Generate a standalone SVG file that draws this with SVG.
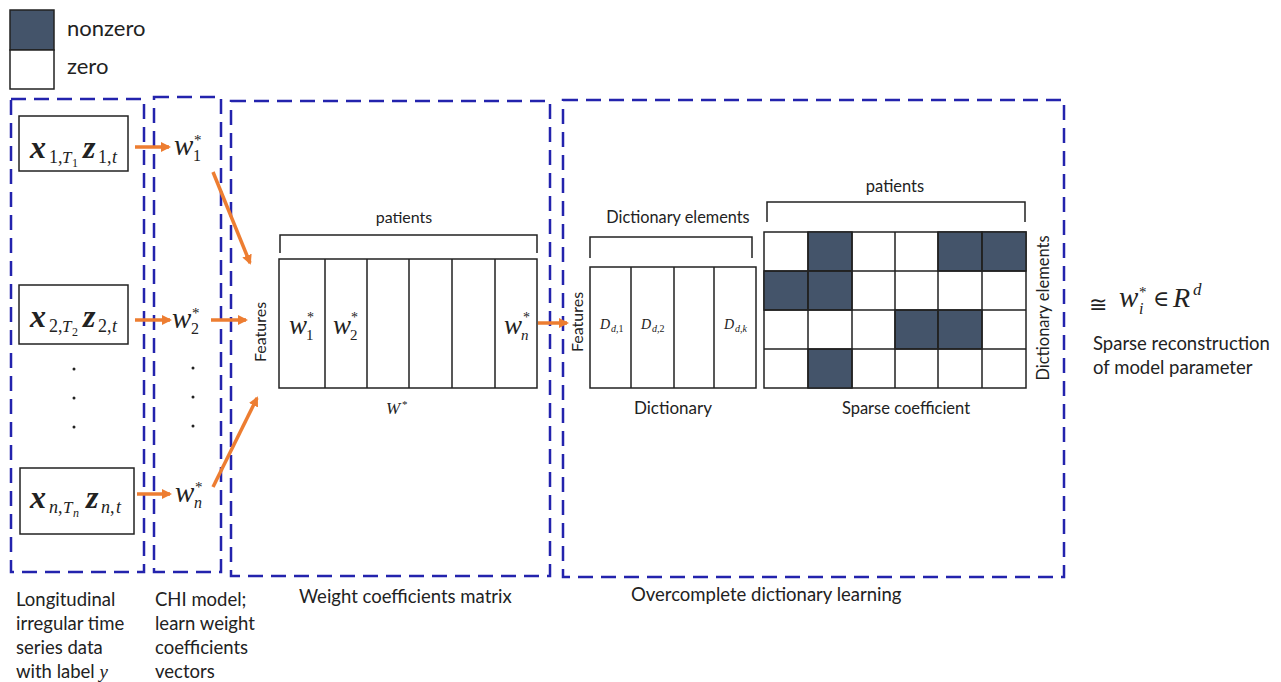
<svg xmlns="http://www.w3.org/2000/svg" width="1281" height="682" viewBox="0 0 1281 682">
<style>
.t{font-family:Lato,"Open Sans","Liberation Sans",sans-serif;fill:#222}
.m{font-family:"Liberation Serif","DejaVu Serif",serif;font-style:italic;fill:#222}
.mn{font-family:"Liberation Serif","DejaVu Serif",serif;font-style:normal;fill:#222}
.mb{font-family:"Liberation Serif","DejaVu Serif",serif;font-style:italic;font-weight:bold;fill:#222}
.dash{fill:none;stroke:#2323ad;stroke-width:2.5;stroke-dasharray:15 8}
.blk{fill:#fff;stroke:#222;stroke-width:1.5}
.ln{fill:none;stroke:#222;stroke-width:1.5}
.dk{fill:#44546a;stroke:#222;stroke-width:1.5}
.arr{stroke:#ed7d31;stroke-width:3.5;fill:none;marker-end:url(#ah)}
</style>
<defs>
<marker id="ah" markerWidth="10" markerHeight="10" refX="8" refY="5" orient="auto" markerUnits="userSpaceOnUse" viewBox="0 0 10 10">
<path d="M0,0 L10,5 L0,10 z" fill="#ed7d31"/>
</marker>
</defs>
<rect width="1281" height="682" fill="#fff"/>

<g id="legend">
<rect x="10" y="10" width="44" height="40" class="dk"/>
<rect x="10" y="50" width="44" height="39" class="blk"/>
<text x="67" y="36" class="t" font-size="22">nonzero</text>
<text x="67" y="74" class="t" font-size="22">zero</text>
</g>

<g id="frames">
<rect x="11" y="99" width="133" height="473" class="dash"/>
<rect x="154" y="97" width="67" height="475" class="dash"/>
<rect x="231" y="101" width="319" height="475" class="dash"/>
<rect x="563" y="100" width="501" height="477" class="dash"/>
</g>

<g id="input1">
<rect x="19" y="116" width="109" height="55" class="blk"/>
<text class="mb" font-size="32" x="30" y="158">x</text>
<text class="mn" font-size="18" x="49" y="163">1,</text>
<text class="m" font-size="17" x="62" y="163">T</text>
<text class="mn" font-size="12" x="72" y="167">1</text>
<text class="mb" font-size="32" x="83" y="158">z</text>
<text class="mn" font-size="18" x="98" y="163">1,</text>
<text class="m" font-size="18" x="112" y="163">t</text>
</g>

<g id="input2">
<rect x="19" y="285" width="109" height="59" class="blk"/>
<text class="mb" font-size="32" x="30" y="327">x</text>
<text class="mn" font-size="18" x="49" y="332">2,</text>
<text class="m" font-size="17" x="62" y="332">T</text>
<text class="mn" font-size="12" x="72" y="336">2</text>
<text class="mb" font-size="32" x="83" y="327">z</text>
<text class="mn" font-size="18" x="98" y="332">2,</text>
<text class="m" font-size="18" x="112" y="332">t</text>
</g>

<g id="inputn">
<rect x="20" y="468" width="114" height="66" class="blk"/>
<text class="mb" font-size="32" x="30" y="508">x</text>
<text class="m" font-size="18" x="49" y="513">n</text>
<text class="mn" font-size="18" x="58" y="513">,</text>
<text class="m" font-size="17" x="63" y="513">T</text>
<text class="m" font-size="12" x="73" y="517">n</text>
<text class="mb" font-size="32" x="86" y="508">z</text>
<text class="m" font-size="18" x="101" y="513">n</text>
<text class="mn" font-size="18" x="110" y="513">,</text>
<text class="m" font-size="18" x="116" y="513">t</text>
</g>

<g id="dots">
<circle cx="74" cy="369" r="1.5" fill="#222"/>
<circle cx="74" cy="398" r="1.5" fill="#222"/>
<circle cx="74" cy="427" r="1.5" fill="#222"/>
<circle cx="193" cy="368" r="1.5" fill="#222"/>
<circle cx="193" cy="397" r="1.5" fill="#222"/>
<circle cx="193" cy="426" r="1.5" fill="#222"/>
</g>

<g id="w1">
<text class="m" font-size="29" x="174" y="155">w</text>
<text class="mn" font-size="16" x="193" y="161">1</text>
<text class="mn" font-size="15" x="194" y="145">*</text>
</g>
<g id="w2">
<text class="m" font-size="29" x="172" y="328">w</text>
<text class="mn" font-size="16" x="191" y="334">2</text>
<text class="mn" font-size="15" x="192" y="318">*</text>
</g>
<g id="wn">
<text class="m" font-size="29" x="175" y="502">w</text>
<text class="m" font-size="16" x="194" y="508">n</text>
<text class="mn" font-size="15" x="195" y="492">*</text>
</g>

<g id="connectors">
<line x1="135" y1="147" x2="169" y2="147" class="arr"/>
<line x1="135" y1="320" x2="170" y2="320" class="arr"/>
<line x1="137" y1="494" x2="170" y2="494" class="arr"/>
<line x1="213" y1="172" x2="250" y2="263" class="arr"/>
<line x1="211" y1="320" x2="246" y2="320" class="arr"/>
<line x1="213" y1="487" x2="257" y2="398" class="arr"/>
<line x1="538" y1="323" x2="567" y2="323" class="arr"/>
</g>

<g id="wmatrix">
<text class="t" font-size="16" x="404" y="223" text-anchor="middle">patients</text>
<path d="M280,253 V235 H537 V253" class="ln"/>
<text class="t" font-size="16" transform="translate(266,332) rotate(-90)" text-anchor="middle">Features</text>
<rect x="279" y="259" width="258" height="129" class="blk"/>
<path d="M325,259V388M367,259V388M409,259V388M452,259V388M495,259V388" class="ln"/>
<text class="m" font-size="27" x="289" y="334">w</text>
<text class="mn" font-size="15" x="306" y="340">1</text>
<text class="mn" font-size="14" x="307" y="322">*</text>
<text class="m" font-size="27" x="333" y="334">w</text>
<text class="mn" font-size="15" x="350" y="340">2</text>
<text class="mn" font-size="14" x="351" y="322">*</text>
<text class="m" font-size="27" x="504" y="334">w</text>
<text class="m" font-size="15" x="521" y="340">n</text>
<text class="mn" font-size="14" x="523" y="322">*</text>
<text class="m" font-size="17" x="386" y="414">W</text>
<text class="mn" font-size="11" x="402" y="408">*</text>
</g>

<g id="labels">
<text class="t" font-size="18.5" x="16" y="606">Longitudinal</text>
<text class="t" font-size="18.5" x="16" y="630">irregular time</text>
<text class="t" font-size="18.5" x="16" y="654">series data</text>
<text class="t" font-size="18.5" x="16" y="678">with label <tspan class="m" font-size="19">y</tspan></text>
<text class="t" font-size="18.5" x="155" y="606">CHI model;</text>
<text class="t" font-size="18.5" x="155" y="630">learn weight</text>
<text class="t" font-size="18.5" x="155" y="654">coefficients</text>
<text class="t" font-size="18.5" x="155" y="678">vectors</text>
<text class="t" font-size="18.5" x="299" y="603">Weight coefficients matrix</text>
<text class="t" font-size="18.5" x="631" y="601">Overcomplete dictionary learning</text>
</g>

<g id="dictionary">
<text class="t" font-size="16.3" x="678" y="223" text-anchor="middle">Dictionary elements</text>
<path d="M590,258 V237 H752 V258" class="ln"/>
<text class="t" font-size="16" transform="translate(583,322) rotate(-90)" text-anchor="middle">Features</text>
<rect x="590" y="267" width="166" height="121" class="blk"/>
<path d="M631,267V388M674,267V388M714,267V388" class="ln"/>
<text class="m" font-size="14" x="600" y="329">D</text>
<text class="m" font-size="10" x="611" y="332">d<tspan class="mn">,1</tspan></text>
<text class="m" font-size="14" x="641" y="329">D</text>
<text class="m" font-size="10" x="652" y="332">d<tspan class="mn">,2</tspan></text>
<text class="m" font-size="14" x="724" y="329">D</text>
<text class="m" font-size="10" x="735" y="332">d<tspan class="mn">,</tspan>k</text>
<text class="t" font-size="17" x="673" y="414" text-anchor="middle">Dictionary</text>
</g>

<g id="sparse">
<text class="t" font-size="16.5" x="895" y="192" text-anchor="middle">patients</text>
<path d="M767,222 V202 H1025 V222" class="ln"/>
<rect x="764" y="232" width="262" height="156" class="blk"/>
<rect x="808" y="232" width="44" height="39" class="dk"/>
<rect x="938" y="232" width="44" height="39" class="dk"/>
<rect x="982" y="232" width="44" height="39" class="dk"/>
<rect x="764" y="271" width="44" height="39" class="dk"/>
<rect x="808" y="271" width="44" height="39" class="dk"/>
<rect x="895" y="310" width="43" height="39" class="dk"/>
<rect x="938" y="310" width="44" height="39" class="dk"/>
<rect x="808" y="349" width="44" height="39" class="dk"/>
<path d="M808,232V388M852,232V388M895,232V388M938,232V388M982,232V388M764,271H1026M764,310H1026M764,349H1026" class="ln"/>
<text class="t" font-size="16.5" transform="translate(1049,308) rotate(-90)" text-anchor="middle">Dictionary elements</text>
<text class="t" font-size="16.5" x="906" y="414" text-anchor="middle">Sparse coefficient</text>
</g>

<g id="result">
<text class="mn" font-size="22" x="1089" y="312">≅</text>
<text class="m" font-size="29" x="1119" y="307">w</text>
<text class="m" font-size="16" x="1139" y="314">i</text>
<text class="mn" font-size="15" x="1139" y="297">*</text>
<text class="mn" font-size="22" x="1153" y="306">∈</text>
<text class="m" font-size="28" x="1173" y="307">R</text>
<text class="m" font-size="17" x="1193" y="295">d</text>
<text class="t" font-size="18.5" x="1093" y="350">Sparse reconstruction</text>
<text class="t" font-size="18.5" x="1093" y="374">of model parameter</text>
</g>
</svg>
